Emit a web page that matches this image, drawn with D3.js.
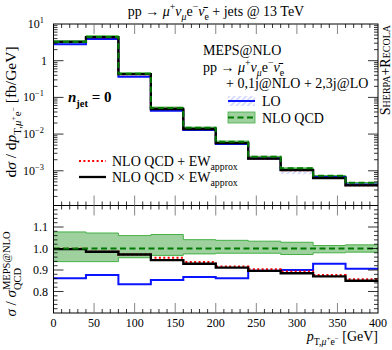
<!DOCTYPE html>
<html><head><meta charset="utf-8">
<script src="https://cdn.jsdelivr.net/npm/d3@7"></script>
<style>body{margin:0;background:#fff}svg{display:block}text{font-family:"Liberation Serif",serif;fill:#000}</style>
</head><body>
<svg id="c" width="392" height="350"></svg>
<script>
// bins in GeV
const binEdges = [0,40,80,120,160,200,240,280,320,360,400];
// main panel dsigma/dpT [fb/GeV]
const nloQCD     = [3.25, 4.45, 0.44, 0.051, 0.0148, 0.0062, 0.0024, 0.00117, 0.00073, 0.00047];
const nloQCDlow  = [3.05, 4.18, 0.421, 0.0494, 0.01443, 0.00606, 0.00235, 0.00114, 0.000715, 0.000462];
const nloQCDhigh = [3.50, 4.77, 0.466, 0.0543, 0.01541, 0.00644, 0.00248, 0.0012, 0.00074, 0.000478];
const lo         = [2.80, 3.90, 0.367, 0.0435, 0.01285, 0.00534, 0.00215, 0.00105, 0.00068, 0.000426];
const loLow      = [2.72, 3.78, 0.356, 0.0422, 0.01247, 0.00518, 0.00209, 0.00080, 0.00066, 0.000413];
const loHigh     = [2.88, 4.02, 0.378, 0.0448, 0.01324, 0.0055, 0.00221, 0.00108, 0.0007, 0.000439];
const nloEWadd   = [3.25, 4.38, 0.428, 0.0488, 0.01387, 0.00568, 0.00217, 0.00104, 0.00064, 0.000403];
const nloEWmult  = [3.24, 4.38, 0.428, 0.0482, 0.01375, 0.00565, 0.00215, 0.00104, 0.000635, 0.0004];
// ratio panel sigma / sigma_QCD
const rNLO     = [1,1,1,1,1,1,1,1,1,1];
const rNLOlow  = [0.939,0.939,0.957,0.968,0.975,0.978,0.978,0.972,0.98,0.983];
const rNLOhigh = [1.077,1.072,1.06,1.065,1.041,1.038,1.034,1.029,1.014,1.017];
const rLO      = [0.862,0.877,0.834,0.853,0.868,0.862,0.896,0.9,0.929,0.906];
const rEWadd   = [0.999,0.985,0.972,0.957,0.937,0.916,0.903,0.893,0.877,0.857];
const rEWmult  = [0.997,0.985,0.972,0.946,0.929,0.911,0.896,0.885,0.870,0.850];
// tick labels
const xTicks = [0,50,100,150,200,250,300,350,400];
const yMainExp = [1,0,-1,-2,-3];
const yRatioTicks = [0.8,0.9,1.0,1.1];

const svg = d3.select("#c");
const L=53.5, R=378, T=24, M=205.5, B=313;
const x = d3.scaleLinear([0,400],[L,R]);
const yM = d3.scaleLog([Math.pow(10,-3.946),10],[M,T]);
const yR = d3.scaleLinear([0.7,1.2],[B,M]);

const defs = svg.append("defs");
const hatch = defs.append("pattern").attr("id","hatch").attr("patternUnits","userSpaceOnUse")
  .attr("width",4).attr("height",4).attr("patternTransform","rotate(-45)");
hatch.append("line").attr("x1",0).attr("y1",2).attr("x2",4).attr("y2",2).attr("stroke","#9aa8ff").attr("stroke-width",0.8);
defs.append("clipPath").attr("id","cm").append("rect").attr("x",L).attr("y",T).attr("width",R-L).attr("height",M-T);
defs.append("clipPath").attr("id","cr").append("rect").attr("x",L).attr("y",M).attr("width",R-L).attr("height",B-M);

function stepPath(vals, y){
  let p = "M"+x(binEdges[0])+","+y(vals[0]);
  vals.forEach((v,i)=>{ if(i>0) p+="V"+y(v); p+="H"+x(binEdges[i+1]); });
  return p;
}
function bandPath(low, high, y){
  let p = "M"+x(binEdges[0])+","+y(high[0]);
  high.forEach((v,i)=>{ if(i>0) p+="V"+y(v); p+="H"+x(binEdges[i+1]); });
  for(let i=low.length-1;i>=0;i--){ p+="V"+y(low[i]); p+="H"+x(binEdges[i]); }
  return p+"Z";
}
const green="#2a9a2a", dgreen="#007a00", blue="#0a14ff", red="#ff0000";

function drawPanel(g, y, d){
  g.append("path").attr("d",bandPath(d.nl,d.nh,y)).attr("fill",green).attr("fill-opacity",0.45).attr("stroke","none");
  g.append("path").attr("d",stepPath(d.nh,y)).attr("fill","none").attr("stroke","#45b045").attr("stroke-width",1);
  g.append("path").attr("d",stepPath(d.nl,y)).attr("fill","none").attr("stroke","#45b045").attr("stroke-width",1);
  if(d.ll) g.append("path").attr("d",bandPath(d.ll,d.lh,y)).attr("fill","url(#hatch)");
  g.append("path").attr("d",stepPath(d.lo,y)).attr("fill","none").attr("stroke",blue).attr("stroke-width",2);
  g.append("path").attr("d",stepPath(d.add,y)).attr("fill","none").attr("stroke",red).attr("stroke-width",2).attr("stroke-dasharray","2,2.4");
  g.append("path").attr("d",stepPath(d.mult,y)).attr("fill","none").attr("stroke","#000").attr("stroke-width",2.3);
  g.append("path").attr("d",stepPath(d.n,y)).attr("fill","none").attr("stroke",dgreen).attr("stroke-width",2).attr("stroke-dasharray","6,3.5");
}
drawPanel(svg.append("g").attr("clip-path","url(#cm)"), yM,
  {n:nloQCD,nl:nloQCDlow,nh:nloQCDhigh,lo:lo,ll:loLow,lh:loHigh,add:nloEWadd,mult:nloEWmult});
drawPanel(svg.append("g").attr("clip-path","url(#cr)"), yR,
  {n:rNLO,nl:rNLOlow,nh:rNLOhigh,lo:rLO,add:rEWadd,mult:rEWmult});

// frames
svg.append("rect").attr("x",L).attr("y",T).attr("width",R-L).attr("height",B-T).attr("fill","none").attr("stroke","#000").attr("stroke-width",1);
svg.append("line").attr("x1",L).attr("x2",R).attr("y1",M).attr("y2",M).attr("stroke","#000").attr("stroke-width",1);

// ticks
const tk = svg.append("g").attr("stroke","#000").attr("stroke-width",0.8);
const xs = d3.range(0,401,10);
[[T,1],[M,-1],[M,1],[B,-1]].forEach(([yy,dir])=>{
  xs.forEach(v=>{ const len = v%50===0?10:4;
    if(v===0||v===400) return;
    tk.append("line").attr("x1",x(v)).attr("x2",x(v)).attr("y1",yy).attr("y2",yy+dir*len)
      .attr("stroke", v%50===0?"#666":"#000"); });
});
// main y ticks (log)
const logTicks=[];
for(let e=-4;e<=0;e++) for(let k=1;k<=9;k++){ const v=k*Math.pow(10,e); if(v>=yM.domain()[0]&&v<=10) logTicks.push([v,k===1]); }
logTicks.push([10,true]);
logTicks.forEach(([v,maj])=>{ const yy=yM(v); const len=maj?10:4;
  if(yy<T+0.1||yy>M-0.1) return;
  tk.append("line").attr("x1",L).attr("x2",L+len).attr("y1",yy).attr("y2",yy);
  tk.append("line").attr("x1",R).attr("x2",R-len).attr("y1",yy).attr("y2",yy);
});
d3.range(0.72,1.19,0.02).forEach(v=>{ const maj = yRatioTicks.some(t=>Math.abs(t-v)<1e-6); const len=maj?10:4; const yy=yR(v);
  tk.append("line").attr("x1",L).attr("x2",L+len).attr("y1",yy).attr("y2",yy);
  tk.append("line").attr("x1",R).attr("x2",R-len).attr("y1",yy).attr("y2",yy);
});

// rich text helper
function rich(sel, segs, fs){
  let cur=0, prev=null;
  segs.forEach(g=>{
    const off=(g.y||0)*fs;
    const ts=sel.append("tspan").text(g.t).attr("font-size",(g.s||1)*fs).attr("dy",off-cur);
    if(g.i) ts.attr("font-style","italic");
    if(g.b) ts.attr("font-weight","bold");
    if(g.back && prev) ts.attr("dx",-prev.node().getComputedTextLength());
    cur=off; prev=ts;
  });
  return sel;
}
const FS=14;
// tick labels
xTicks.forEach(v=> svg.append("text").attr("x",x(v)).attr("y",327).attr("text-anchor","middle").attr("font-size",12).text(v));
yMainExp.forEach(e=>{
  const t = svg.append("text").attr("x",e===0?47:44).attr("y",yM(Math.pow(10,e))+4).attr("text-anchor","end").attr("font-size",12);
  if(e===0) rich(t,[{t:"1"}],12);
  else rich(t,[{t:"10"},{t:(e<0?"\u2212":"")+Math.abs(e),s:0.7,y:-0.42}],12);
});
yRatioTicks.forEach(v=> svg.append("text").attr("x",48).attr("y",yR(v)+4).attr("text-anchor","end").attr("font-size",12).text(v.toFixed(1)));

// title
rich(svg.append("text").attr("x",216).attr("y",16).attr("text-anchor","middle").attr("font-size",FS),
 [{t:"pp \u2192 "},{t:"\u03bc",i:1},{t:"+",s:.7,y:-.4},{t:"\u03bd",i:1,y:0},{t:"\u03bc",i:1,s:.7,y:.25},{t:"e",y:0},{t:"\u2212",s:.7,y:-.4},{t:"\u03bd\u0304",i:1,y:0},{t:"e",s:.7,y:.25},{t:" + jets @ 13 TeV",y:0}],FS);

// axis labels
rich(svg.append("text").attr("transform","translate(16,112) rotate(-90)").attr("text-anchor","middle").attr("font-size",15.5),
 [{t:"d"},{t:"\u03c3",i:1},{t:" / d"},{t:"p",i:1},{t:"T,",s:.7,y:.3},{t:"\u03bc",i:1,s:.7,y:.3},{t:"+",s:.5,y:.02},{t:"e",s:.7,y:.3},{t:"\u2212",s:.5,y:.02},{t:"  [fb/GeV]",y:0}],15.5);
rich(svg.append("text").attr("transform","translate(16,274) rotate(-90)").attr("text-anchor","middle").attr("font-size",15),
 [{t:"\u03c3",i:1},{t:" / "},{t:"\u03c3",i:1},{t:"MEPS@NLO",s:.7,y:-.4},{t:"QCD",s:.7,y:.3,back:1}],15);
rich(svg.append("text").attr("x",R).attr("y",341).attr("text-anchor","end").attr("font-size",FS),
 [{t:"p",i:1},{t:"T,",s:.7,y:.3},{t:"\u03bc",i:1,s:.7,y:.3},{t:"+",s:.5,y:.02},{t:"e",s:.7,y:.3},{t:"\u2212",s:.5,y:.02},{t:"  [GeV]",y:0}],FS);
// Sherpa
svg.append("text").attr("transform","translate(390,25) rotate(-90)").attr("text-anchor","end")
  .attr("font-size",14).style("font-variant","small-caps").text("Sherpa+Recola");

// legend texts
svg.append("text").attr("x",203).attr("y",55).attr("font-size",FS).text("MEPS@NLO");
rich(svg.append("text").attr("x",203).attr("y",72).attr("font-size",FS),
 [{t:"pp \u2192 "},{t:"\u03bc",i:1},{t:"+",s:.7,y:-.4},{t:"\u03bd",i:1,y:0},{t:"\u03bc",i:1,s:.7,y:.25},{t:"e",y:0},{t:"\u2212",s:.7,y:-.4},{t:"\u03bd\u0304",i:1,y:0},{t:"e",s:.7,y:.25}],FS);
svg.append("text").attr("x",226).attr("y",88).attr("font-size",FS).text("+ 0,1j@NLO + 2,3j@LO");
// LO entry
svg.append("rect").attr("x",228).attr("y",96).attr("width",27).attr("height",10).attr("fill","url(#hatch)");
svg.append("line").attr("x1",228).attr("x2",255).attr("y1",101).attr("y2",101).attr("stroke",blue).attr("stroke-width",2);
svg.append("text").attr("x",262).attr("y",106).attr("font-size",FS).text("LO");
// NLO QCD entry
svg.append("rect").attr("x",228).attr("y",112).attr("width",27).attr("height",11).attr("fill",green).attr("fill-opacity",0.45).attr("stroke","#45b045").attr("stroke-width",0.8);
svg.append("line").attr("x1",228).attr("x2",255).attr("y1",117.5).attr("y2",117.5).attr("stroke",dgreen).attr("stroke-width",2).attr("stroke-dasharray","6,3.5");
svg.append("text").attr("x",262).attr("y",122.5).attr("font-size",FS).text("NLO QCD");
// n_jet
rich(svg.append("text").attr("x",68).attr("y",102).attr("font-size",15),
 [{t:"n",i:1,b:1},{t:"jet",s:.7,y:.3,b:1},{t:" = 0",y:0,b:1}],15);
// EW entries
svg.append("line").attr("x1",79).attr("x2",106).attr("y1",161).attr("y2",161).attr("stroke",red).attr("stroke-width",2).attr("stroke-dasharray","2,2.4");
rich(svg.append("text").attr("x",112).attr("y",165.5).attr("font-size",FS),[{t:"NLO QCD + EW"},{t:"approx",s:.7,y:.3}],FS);
svg.append("line").attr("x1",79).attr("x2",106).attr("y1",177).attr("y2",177).attr("stroke","#000").attr("stroke-width",2.3);
rich(svg.append("text").attr("x",112).attr("y",181.5).attr("font-size",FS),[{t:"NLO QCD \u00d7 EW"},{t:"approx",s:.7,y:.3}],FS);
</script>
</body></html>
